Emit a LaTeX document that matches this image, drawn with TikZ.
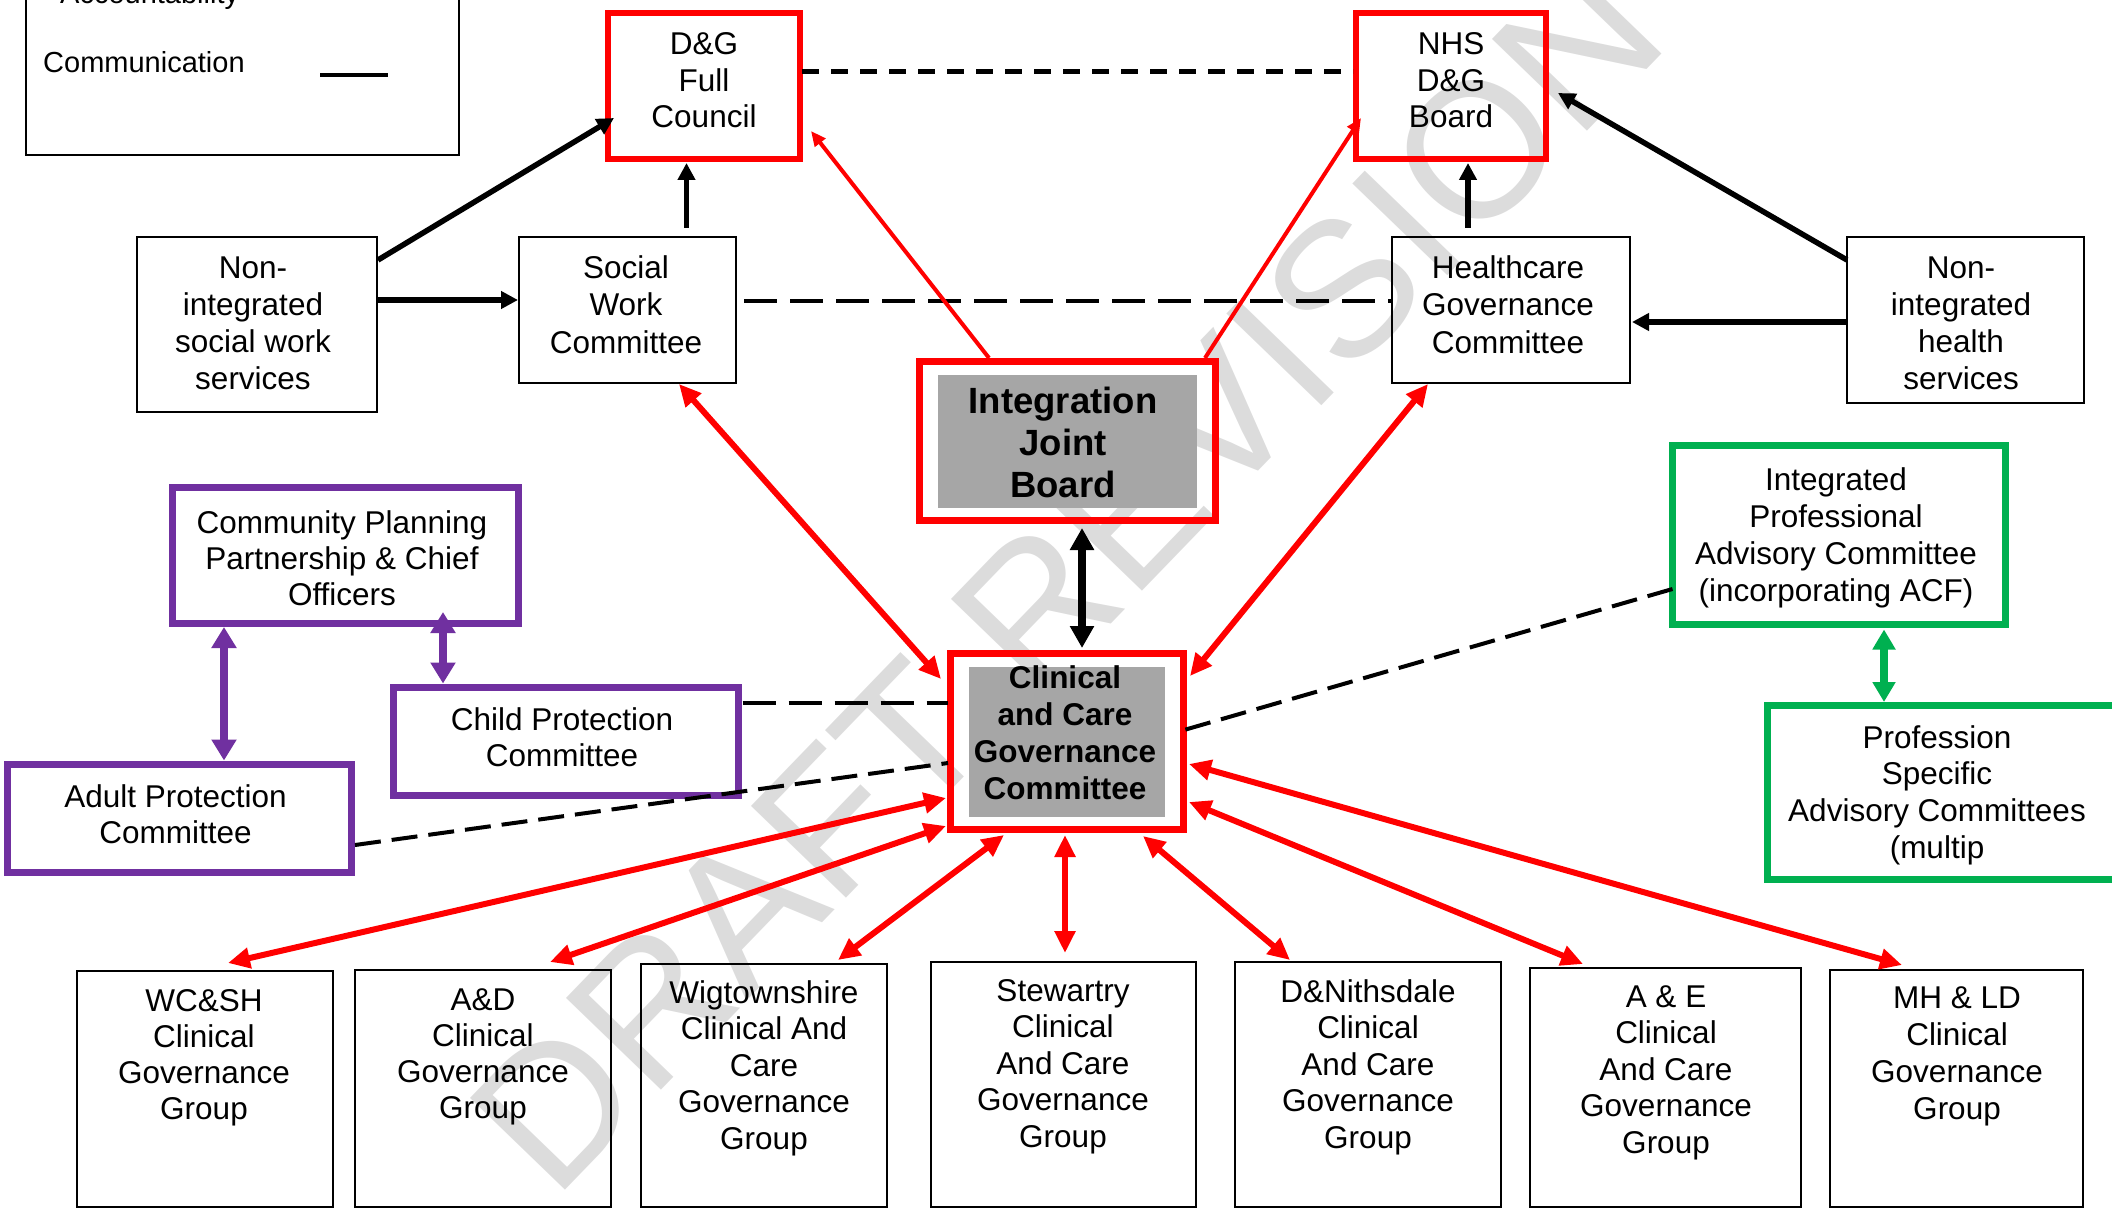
\documentclass[tikz,border=0pt]{standalone}
\usepackage{fontspec}
\setmainfont{Liberation Sans}
\usetikzlibrary{arrows.meta,calc}
\definecolor{myred}{RGB}{255,0,0}
\definecolor{mypurple}{RGB}{112,48,160}
\definecolor{mygreen}{RGB}{0,176,80}
\definecolor{fillgray}{RGB}{166,166,166}
\definecolor{wmgray}{RGB}{220,220,220}
% box by center-line corners: name, x1, y1, x2, y2, style
\newcommand\bx[6]{\node[#6, inner sep=0pt, outer sep=0pt, minimum width={(#4)-(#2)}, minimum height={(#5)-(#3)}] (#1) at ({((#2)+(#4))/2},{((#3)+(#5))/2}) {};}
% text block: name, style, x, first baseline, strut height, text
\newcommand\tx[6]{\node[#2, anchor=north, inner sep=0pt, outer sep=0pt] (#1) at (#3,{(#4)-(#5)}) {\rule{0pt}{#5pt}#6};}
\begin{document}
\begin{tikzpicture}[x=1pt,y=-1pt,
  rg/.style={font=\fontsize{31.5}{#1}\selectfont, align=center},
  rg/.default=36.5,
  bdA/.style={font=\bfseries\fontsize{36.5}{42}\selectfont, align=center},
  bdB/.style={font=\bfseries\fontsize{31.5}{37}\selectfont, align=center},
  thinbox/.style={draw=black, line width=2pt},
  redbox/.style={draw=myred, line width=5.5pt},
  redthick/.style={draw=myred, line width=7pt},
  purplebox/.style={draw=mypurple, line width=6.5pt},
  greenbox/.style={draw=mygreen, line width=7pt},
  graybox/.style={fill=fillgray},
  blk/.style={draw=black, line width=5.5pt, -{Triangle[length=17pt,width=17pt]}},
  blkdbl/.style={draw=black, line width=8pt, {Triangle[length=22pt,width=23pt]}-{Triangle[length=22pt,width=23pt]}},
  redone/.style={draw=myred, line width=4pt, -{Triangle[length=15pt,width=13pt]}},
  reddbl/.style={draw=myred, line width=6pt, {Triangle[length=22pt,width=20pt]}-{Triangle[length=22pt,width=20pt]}},
  purdbl/.style={draw=mypurple, line width=8pt, {Triangle[length=21pt,width=24pt]}-{Triangle[length=21pt,width=24pt]}},
  grndbl/.style={draw=mygreen, line width=8pt, {Triangle[length=20pt,width=22pt]}-{Triangle[length=20pt,width=22pt]}},
  dashA/.style={draw=black, line width=5pt, dash pattern=on 17pt off 12pt},
  dashB/.style={draw=black, line width=4.5pt, dash pattern=on 33pt off 13pt},
  dashC/.style={draw=black, line width=4pt, dash pattern=on 26pt off 11pt},
]
\useasboundingbox (0,0) rectangle (2112,1209);

% watermark
\node[text=wmgray, font=\fontsize{192}{192}\selectfont, rotate=46, inner sep=0pt] (wm) at (1066,576) {DRAFT REVISION};

% legend
\bx{legend}{26}{-20}{459}{155}{thinbox}
\node[anchor=base west, inner sep=0pt, font=\fontsize{29}{34}\selectfont] (acc) at (60,4) {Accountability};
\node[anchor=base west, inner sep=0pt, font=\fontsize{29}{34}\selectfont] (comm) at (43,73) {Communication};
\draw[line width=3.5pt] ($(legend.north west)+(294,95)$) -- ++(68,0);

% gray fills
\bx{ijbfill}{938}{375}{1197}{508}{graybox}
\bx{ccgcfill}{969}{667}{1165}{817}{graybox}

% boxes
\bx{dg}{608}{13}{800}{159}{redbox}
\bx{nhs}{1356}{13}{1546}{159}{redbox}
\bx{swc}{519}{237}{736}{383}{thinbox}
\bx{nisw}{137}{237}{377}{412}{thinbox}
\bx{hgc}{1392}{237}{1630}{383}{thinbox}
\bx{nihs}{1847}{237}{2084}{403}{thinbox}
\bx{ijb}{919.5}{361.5}{1215.5}{520.5}{redthick}
\bx{ccgc}{950.5}{653.5}{1183.5}{829.5}{redthick}
\bx{cpp}{172.5}{487.5}{518.5}{623.5}{purplebox}
\bx{cpc}{393.5}{687.5}{738.5}{795.5}{purplebox}
\bx{apc}{7.5}{764.5}{351.5}{872.5}{purplebox}
\bx{ipac}{1672.5}{445.5}{2005.5}{624.5}{greenbox}
\bx{psac}{1767.5}{705.5}{2118}{879.5}{greenbox}
\bx{wcsh}{77}{971}{333}{1207}{thinbox}
\bx{ad}{355}{970}{611}{1207}{thinbox}
\bx{wig}{641}{964}{887}{1207}{thinbox}
\bx{stew}{931}{962}{1196}{1207}{thinbox}
\bx{dn}{1235}{962}{1501}{1207}{thinbox}
\bx{ae}{1530}{968}{1801}{1207}{thinbox}
\bx{mhld}{1830}{970}{2083}{1207}{thinbox}

% texts
\tx{dgt}{rg}{704}{55}{25}{D\&G\\Full\\Council}
\tx{nhst}{rg}{1451}{55}{25}{NHS\\D\&G\\Board}
\tx{swct}{rg=37.5}{626}{278}{25}{Social\\Work\\Committee}
\tx{niswt}{rg=37}{253}{278}{25}{Non-\\integrated\\social work\\services}
\tx{hgct}{rg=37.5}{1508}{278}{25}{Healthcare\\Governance\\Committee}
\tx{nihst}{rg=37}{1961}{278}{25}{Non-\\integrated\\health\\services}
\tx{ijbt}{bdA}{1063}{413}{29}{Integration\\Joint\\Board}
\tx{ccgct}{bdB}{1065}{688}{25}{Clinical\\and Care\\Governance\\Committee}
\tx{cppt}{rg=36}{342}{533}{25}{Community Planning\\Partnership \& Chief\\Officers}
\tx{cpct}{rg=36}{562}{730}{25}{Child Protection\\Committee}
\tx{apct}{rg=36}{175.5}{807}{25}{Adult Protection\\Committee}
\tx{ipact}{rg=37}{1836}{490}{25}{Integrated\\Professional\\Advisory Committee\\(incorporating ACF)}
\tx{psact}{rg=36.7}{1937}{748}{25}{Profession\\Specific\\Advisory Committees\\(multip}
\tx{wcsht}{rg=36.3}{204}{1011}{25}{WC\&SH\\Clinical\\Governance\\Group}
\tx{adt}{rg=36.3}{483}{1010}{25}{A\&D\\Clinical\\Governance\\Group}
\tx{wigt}{rg=36.5}{764}{1003}{25}{Wigtownshire\\Clinical And\\Care\\Governance\\Group}
\tx{stewt}{rg=36.5}{1063}{1001}{25}{Stewartry\\Clinical\\And Care\\Governance\\Group}
\tx{dnt}{rg=36.5}{1368}{1002}{25}{D\&Nithsdale\\Clinical\\And Care\\Governance\\Group}
\tx{aet}{rg=36.5}{1666}{1007}{25}{A \& E\\Clinical\\And Care\\Governance\\Group}
\tx{mhldt}{rg=37}{1957}{1008}{25}{MH \& LD\\Clinical\\Governance\\Group}

% dashed communication lines
\draw[dashA] ($(dg.east)+(2,-14)$) -- ($(nhs.west)+(-3,-14)$);
\draw[dashB] ($(swc.east)+(8,-9)$) -- ($(hgc.west)+(0,-9)$);
\draw[dashB] ($(cpc.east)+(4,-38.5)$) -- ($(ccgc.west)+(-3,-38.5)$);
\draw[dashC] ($(apc.east)+(3.5,26.5)$) -- ($(ccgc.west)+(-2.5,21.5)$);
\draw[dashC] ($(ipac.west)+(0,54)$) -- ($(ccgc.east)+(0.5,-11.5)$);

% black arrows
\draw[blk] ($(nisw.north east)+(1,23)$) -- ($(dg.west)+(6,32)$);
\draw[blk] ($(nisw.east)+(0,-24.5)$) -- ($(swc.west)+(-1,-10)$);
\draw[blk] ($(swc.north)+(59,-9)$) -- ($(dg.south)+(-17.5,4)$);
\draw[blk] ($(hgc.north)+(-43,-9)$) -- ($(nhs.south)+(17,4)$);
\draw[blk] ($(nihs.north west)+(0,23)$) -- ($(nhs.east)+(12,7)$);
\draw[blk] ($(nihs.west)+(0,2)$) -- ($(hgc.east)+(2,12)$);
\draw[blkdbl] ($(ijb.south)+(14.5,7.5)$) -- ($(ccgc.north)+(15,-5.5)$);

% red arrows
\draw[redone] ($(ijb.north)+(-78.5,-3.5)$) -- ($(dg.east)+(11,45)$);
\draw[redone] ($(ijb.north)+(137.5,-3.5)$) -- ($(nhs.west)+(5,32)$);
\draw[reddbl] ($(swc.south)+(51.5,1)$) -- ($(ccgc.north west)+(-9.5,25.5)$);
\draw[reddbl] ($(hgc.south)+(-83,1)$) -- ($(ccgc.north east)+(6.5,22.5)$);
\draw[reddbl] ($(ccgc.west)+(-4.5,56.5)$) -- ($(wcsh.north)+(23,-8)$);
\draw[reddbl] ($(ccgc.west)+(-4.5,84.5)$) -- ($(ad.north)+(67,-8)$);
\draw[reddbl] ($(ccgc.south)+(-63,5.5)$) -- ($(wig.north)+(74,-4)$);
\draw[reddbl] ($(ccgc.south)+(-2,5.5)$) -- ($(stew.north)+(1.5,-9)$);
\draw[reddbl] ($(ccgc.south)+(76,6.5)$) -- ($(dn.north)+(-78,-2)$);
\draw[reddbl] ($(ccgc.east)+(5.5,60.5)$) -- ($(ae.north)+(-82.5,-4)$);
\draw[reddbl] ($(ccgc.east)+(5.5,22.5)$) -- ($(mhld.north)+(-54.5,-5)$);

% purple and green arrows
\draw[purdbl] ($(cpp.south)+(-121.5,3.5)$) -- ($(apc.north)+(44.5,-4)$);
\draw[purdbl] ($(cpp.south)+(97.5,-11.5)$) -- ($(cpc.north)+(-123,-4)$);
\draw[grndbl] ($(ipac.south)+(45,5)$) -- ($(psac.north)+(-58.75,-3.5)$);
\end{tikzpicture}
\end{document}
